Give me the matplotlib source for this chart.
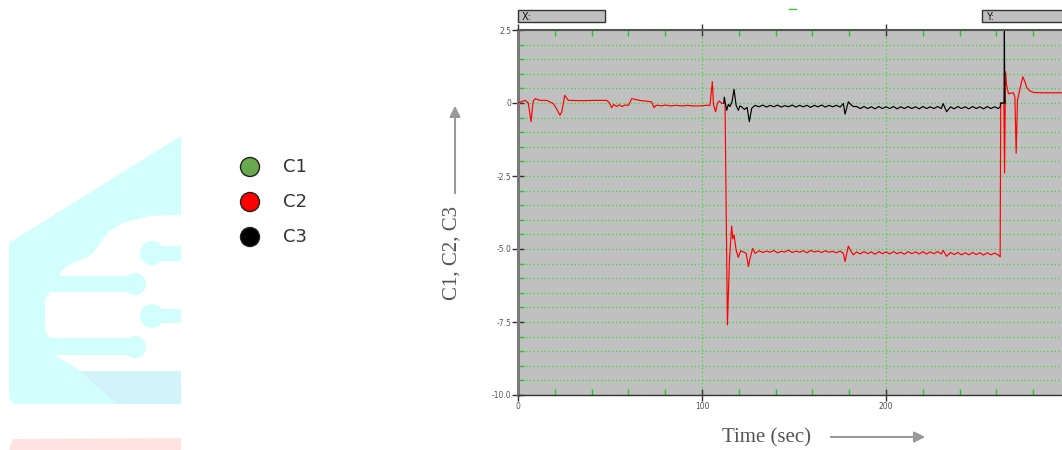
import matplotlib.pyplot as plt
from matplotlib.patches import Polygon, Rectangle, Circle
from matplotlib.ticker import MultipleLocator

# --- данные ---
series_names = ['C1', 'C2', 'C3']
series_colors = ['#6aa84f', '#ff0000', '#000000']

# C2 (красная): (время, значение)
c2_points = [
    (0, 0.0), (3.9, 0.09), (5.6, 0.0), (7.1, -0.64), (8.2, 0.05), (9.3, 0.15), (12, 0.09),
    (15.6, 0.09), (19.2, -0.02), (21, -0.2), (22.8, -0.42), (23.8, -0.3), (25.4, 0.26),
    (27.3, 0.09), (35, 0.08), (42, 0.09), (48.2, 0.09), (49.5, 0.02), (50.9, -0.16),
    (52, -0.05), (53.6, -0.12), (55, -0.06), (56.5, -0.12), (58, -0.07), (60, -0.08),
    (61.8, 0.15), (66, 0.09), (72.6, 0.04), (73.9, -0.16), (75, -0.08), (76.3, -0.08),
    (78, -0.1), (80, -0.07), (83, -0.1), (86, -0.08), (89, -0.1), (92, -0.08), (95, -0.1),
    (98.9, -0.1), (102, -0.08), (104.3, -0.08), (105.6, 0.73), (106.2, -0.05), (107.4, -0.3),
    (108.4, 0.0), (109.4, 0.07), (110.7, -0.02), (112.5, 0.0), (113.8, -7.6), (114.9, -5.38),
    (116.1, -4.21), (116.7, -4.65), (117.4, -4.52), (118.5, -5.03), (119.7, -5.29),
    (121.0, -5.06), (122.5, -5.10), (124.0, -5.15), (125.2, -5.60), (126.1, -5.32),
    (127.5, -4.98), (128.8, -5.15),
    (131, -5.06), (133, -5.12), (135, -5.07), (137, -5.11), (139, -5.05), (141, -5.13),
    (143, -5.08), (145, -5.10), (147, -5.04), (149, -5.12), (151, -5.07), (153, -5.11),
    (155, -5.06), (157, -5.13), (159, -5.05), (161, -5.10), (163, -5.07), (165, -5.12),
    (167, -5.06), (169, -5.11), (171, -5.08), (173, -5.13), (175, -5.07),
    (176.8, -5.15), (177.7, -5.43), (179.5, -4.90), (181, -5.08), (182.2, -5.20),
    (184, -5.10), (186, -5.17), (188, -5.09), (190, -5.16), (192, -5.10), (194, -5.18),
    (196, -5.09), (198, -5.16), (200, -5.10), (202, -5.17), (204, -5.09), (206, -5.16),
    (208, -5.11), (210, -5.18), (212, -5.09), (214, -5.16), (216, -5.10), (218, -5.17),
    (220, -5.09), (222, -5.17), (224, -5.10), (226, -5.16), (228, -5.09), (230, -5.17),
    (231, -5.05), (232.9, -5.25),
    (235, -5.12), (237, -5.19), (239, -5.12), (241, -5.20), (243, -5.13), (245, -5.20),
    (247, -5.12), (249, -5.19), (251, -5.13), (253, -5.21), (255, -5.13), (257, -5.20),
    (259, -5.14), (261, -5.21),
    (262.0, -5.27), (262.3, 0.0), (264.0, 0.0), (264.4, -2.4), (264.9, 1.07), (265.5, 0.6),
    (266.5, 0.32), (268, 0.34), (269.2, 0.35), (270.0, 0.2), (270.7, -1.72), (271.4, 0.09),
    (272.8, 0.5), (274.3, 0.9), (275.3, 0.75), (276.5, 0.53), (278, 0.42), (280.1, 0.36),
    (285, 0.35), (290, 0.35), (295.6, 0.35),
]

# C3 (чёрная)
c3_points = [
    (111.8, 0.0), (112.1, 0.2), (113.4, -0.25), (114.3, -0.05), (115.2, -0.12), (116.3, 0.05),
    (117.4, 0.47), (118.5, -0.08), (119.7, -0.25), (120.6, -0.1), (121.5, -0.13), (123, -0.22),
    (124.5, -0.15), (125.7, -0.64), (127, -0.18), (128.8, -0.08),
    (131, -0.13), (133, -0.07), (135, -0.14), (137, -0.08), (139, -0.13), (141, -0.07),
    (143, -0.14), (145, -0.09), (147, -0.13), (149, -0.07), (151, -0.14), (153, -0.08),
    (155, -0.13), (157, -0.08), (159, -0.15), (161, -0.08), (163, -0.13), (165, -0.07),
    (167, -0.14), (169, -0.08), (171, -0.13), (173, -0.08), (175, -0.14),
    (176.8, -0.02), (177.7, -0.38), (179.5, 0.04), (181, -0.06), (182.2, -0.12),
    (184, -0.12), (186, -0.19), (188, -0.12), (190, -0.19), (192, -0.13), (194, -0.20),
    (196, -0.12), (198, -0.19), (200, -0.13), (202, -0.19), (204, -0.12), (206, -0.20),
    (208, -0.13), (210, -0.19), (212, -0.12), (214, -0.19), (216, -0.13), (218, -0.20),
    (220, -0.12), (222, -0.19), (224, -0.13), (226, -0.19), (228, -0.12), (230, -0.19),
    (231, -0.02), (232.9, -0.30),
    (235, -0.13), (237, -0.20), (239, -0.12), (241, -0.19), (243, -0.13), (245, -0.20),
    (247, -0.12), (249, -0.19), (251, -0.13), (253, -0.20), (255, -0.12), (257, -0.19),
    (259, -0.13), (261, -0.19),
    (262.0, -0.13), (262.3, 0.0), (264.1, 0.0), (264.3, 2.45), (264.5, 0.2), (264.7, 0.0),
]

y_ticks = [2.5, 0, -2.5, -5.0, -7.5, -10.0]
y_tick_labels = ['2.5', '0', '-2.5', '-5.0', '-7.5', '-10.0']
x_ticks = [0, 100, 200]
x_tick_labels = ['0', '100', '200']

fig = plt.figure(figsize=(10.62, 4.5), dpi=100)

# слой оформления в пиксельных координатах
deco = fig.add_axes([0, 0, 1, 1])
deco.set_xlim(0, 1062)
deco.set_ylim(450, 0)
deco.axis('off')

cyan = '#d2fefe'
# логотип-подложка
deco.add_patch(Polygon([(9, 243), (181, 136), (181, 404), (14, 404), (9, 398)],
                       closed=True, fc=cyan, ec='none'))
deco.add_patch(Polygon([(181, 215), (150, 216), (125, 222), (108, 232), (95, 250), (90, 256),
                        (70, 264), (60, 272), (60, 292), (50, 292), (45, 300), (45, 330),
                        (50, 338), (55, 356), (63, 360), (80, 371), (181, 371)],
                       closed=True, fc='white', ec='none'))
deco.add_patch(Polygon([(80, 371), (181, 371), (181, 404), (117, 404)],
                       closed=True, fc='#d3f3fb', ec='none'))
deco.add_patch(Rectangle((45, 276), 90, 16, fc=cyan, ec='none'))
deco.add_patch(Circle((135, 284), 11, fc=cyan, ec='none'))
deco.add_patch(Rectangle((45, 338), 90, 17, fc=cyan, ec='none'))
deco.add_patch(Circle((135, 347), 11, fc=cyan, ec='none'))
deco.add_patch(Circle((152, 253), 12, fc=cyan, ec='none'))
deco.add_patch(Rectangle((152, 246), 29, 15, fc=cyan, ec='none'))
deco.add_patch(Circle((152, 316), 12, fc=cyan, ec='none'))
deco.add_patch(Rectangle((152, 309), 29, 14, fc=cyan, ec='none'))
deco.add_patch(Polygon([(9, 450), (13, 439), (181, 438), (181, 450)],
                       closed=True, fc='#ffe3e3', ec='none'))

# легенда
for i, name in enumerate(series_names):
    yy = 167 + 35 * i
    deco.add_patch(Circle((250, yy), 9.5, fc=series_colors[i], ec='#222222', lw=1))
    deco.text(283, yy, name, va='center', ha='left', fontsize=13, color='#333333')

# подписи осей со стрелками
deco.text(452, 253, 'C1, C2, C3', rotation=90, ha='center', va='center',
          fontsize=15, color='#555555', family='Liberation Serif')
deco.annotate('', xy=(455, 103), xytext=(455, 196),
              arrowprops=dict(arrowstyle='-|>', color='#999999', lw=1.5, mutation_scale=16))
deco.text(767, 438, 'Time (sec)', ha='center', va='center',
          fontsize=15, color='#555555', family='Liberation Serif')
deco.annotate('', xy=(928, 437), xytext=(828, 437),
              arrowprops=dict(arrowstyle='-|>', color='#999999', lw=1.5, mutation_scale=16))

# поля X: и Y:
deco.add_patch(Rectangle((518, 10), 87, 12, fc='#c0c0c0', ec='#333333', lw=1))
deco.text(522, 16.5, 'X:', va='center', ha='left', fontsize=7, color='#111111')
deco.add_patch(Rectangle((982, 10), 100, 12, fc='#c0c0c0', ec='#333333', lw=1))
deco.text(986, 16.5, 'Y:', va='center', ha='left', fontsize=7, color='#111111')
deco.plot([789, 796], [9, 9], color='#22dd22', lw=1)

# основной график
ax = fig.add_axes([518 / 1062, 1 - 395 / 450, (1062 - 518) / 1062, (395 - 30) / 450])
ax.set_facecolor('#c0c0c0')

t2, v2 = zip(*c2_points)
t3, v3 = zip(*c3_points)
ax.plot(t2, v2, color=series_colors[1], lw=0.85, zorder=3)
ax.plot(t3, v3, color=series_colors[2], lw=0.85, zorder=4)

ax.set_xlim(0, 295.6)
ax.set_ylim(-10, 2.5)
ax.set_xticks(x_ticks)
ax.set_xticklabels(x_tick_labels)
ax.set_yticks(y_ticks)
ax.set_yticklabels(y_tick_labels)
ax.xaxis.set_minor_locator(MultipleLocator(20))
ax.yaxis.set_minor_locator(MultipleLocator(0.5))

grid_kw = dict(color='#33dd33', linestyle=(0, (1, 2)), linewidth=0.9)
ax.grid(True, which='both', axis='y', **grid_kw)
ax.grid(True, which='major', axis='x', **grid_kw)
ax.set_axisbelow(True)

ax.tick_params(axis='both', which='major', direction='inout', length=8, width=1,
               color='#333333', labelsize=5.5, labelcolor='#555555', pad=1)
ax.tick_params(axis='both', which='minor', direction='in', length=4, width=1,
               color='#22cc22')
ax.tick_params(axis='x', which='both', top=True)

ax.spines['left'].set_color('#7a7a7a')
ax.spines['left'].set_linewidth(2.2)
ax.spines['bottom'].set_color('#333333')
ax.spines['bottom'].set_linewidth(1)
ax.spines['top'].set_color('#555555')
ax.spines['top'].set_linewidth(1.5)
ax.spines['right'].set_visible(False)

fig.savefig('out.png', dpi=100)
